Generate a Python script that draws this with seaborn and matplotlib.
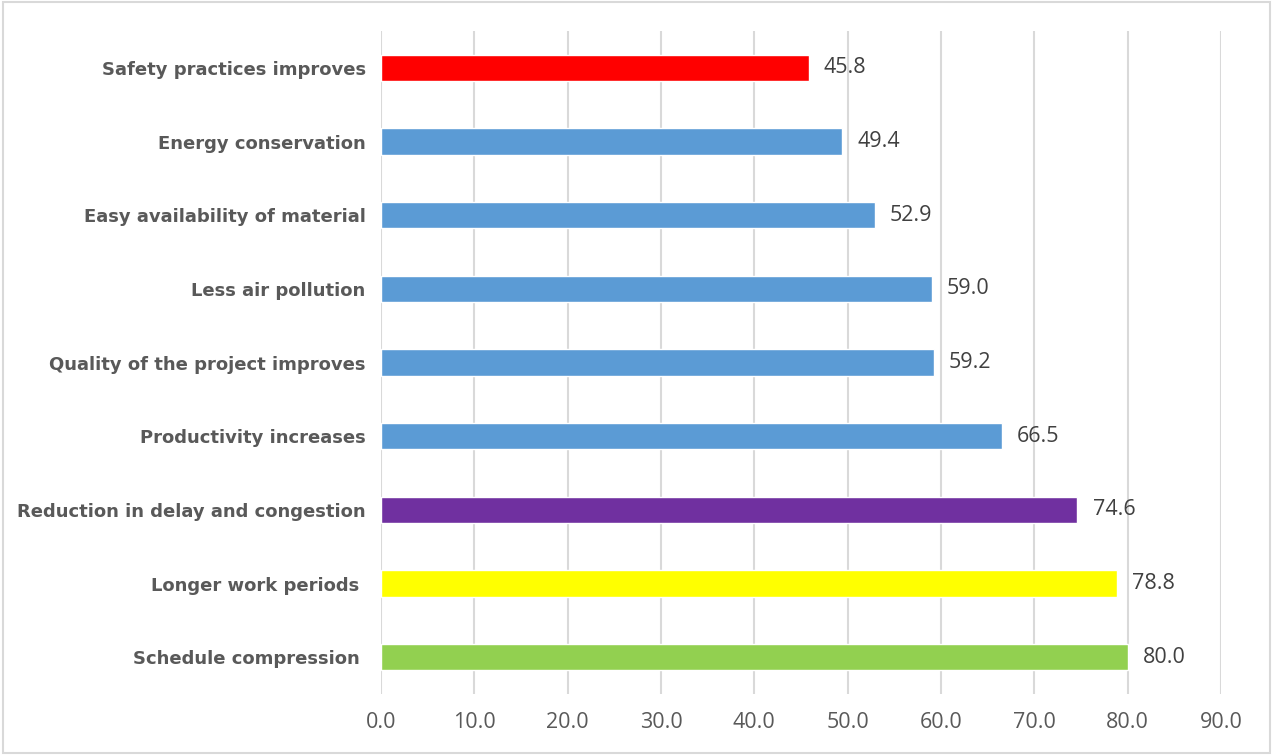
import matplotlib
matplotlib.use("Agg")
import matplotlib.pyplot as plt
import seaborn as sns
import pandas as pd

categories = [
    "Safety practices improves",
    "Energy conservation",
    "Easy availability of material",
    "Less air pollution",
    "Quality of the project improves",
    "Productivity increases",
    "Reduction in delay and congestion",
    "Longer work periods ",
    "Schedule compression ",
]
values = [45.8, 49.4, 52.9, 59.0, 59.2, 66.5, 74.6, 78.8, 80.0]
bar_colors = ["#FF0000", "#5B9BD5", "#5B9BD5", "#5B9BD5", "#5B9BD5",
              "#5B9BD5", "#7030A0", "#FFFF00", "#92D050"]
x_ticks = [0, 10, 20, 30, 40, 50, 60, 70, 80, 90]

df = pd.DataFrame({"factor": categories, "score": values})

sns.set_theme(style="white")
plt.rcParams["font.family"] = ["Open Sans", "DejaVu Sans"]

fig = plt.figure(figsize=(12.73, 7.55), dpi=100)
ax = fig.add_axes([0.2993, 0.0808, 0.6599, 0.8781])

sns.barplot(data=df, y="factor", x="score", hue="factor",
            palette=dict(zip(categories, bar_colors)), legend=False,
            width=0.36, saturation=1, ax=ax, orient="h")

ax.set_xlim(0, 90)
ax.set_ylim(len(categories) - 0.5, -0.5)
ax.set_xticks(x_ticks)
ax.set_xticklabels([f"{t:.1f}" for t in x_ticks], fontsize=15.5, color="#595959")
ax.tick_params(axis="x", length=0, pad=13)
ax.tick_params(axis="y", length=0, pad=11)
for lbl in ax.get_yticklabels():
    lbl.set_fontfamily(["DejaVu Sans"])
    lbl.set_fontweight("bold")
    lbl.set_fontsize(13)
    lbl.set_color("#595959")
ax.set_xlabel("")
ax.set_ylabel("")
ax.xaxis.grid(True, color="#D9D9D9", linewidth=1.5)
ax.set_axisbelow(True)
for s in ax.spines.values():
    s.set_visible(False)

for container in ax.containers:
    ax.bar_label(container, fmt="%.1f", padding=11, fontsize=15.5, color="#404040")

# light frame around the whole figure
fig.patches.append(plt.Rectangle((0.002, 0.003), 0.996, 0.994, transform=fig.transFigure,
                                 fill=False, edgecolor="#D9D9D9", linewidth=1.5))

fig.savefig("out.png", dpi=100)
